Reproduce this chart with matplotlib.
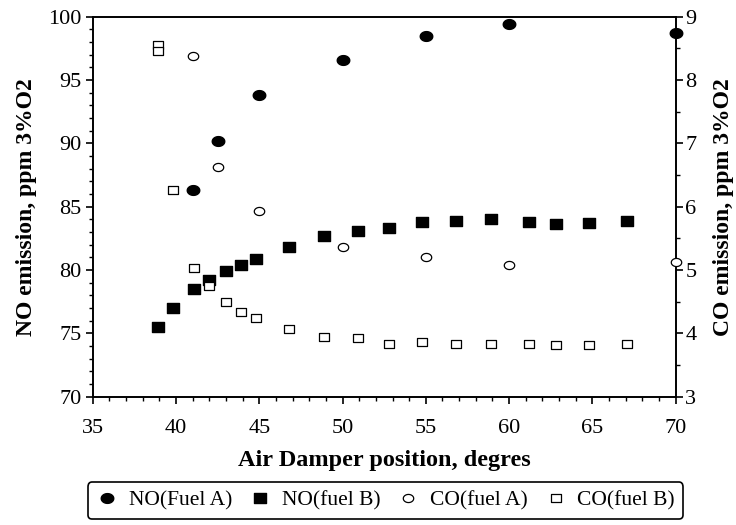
import numpy as np
import matplotlib.pyplot as plt
from matplotlib.path import Path
from matplotlib.ticker import MultipleLocator

# NO emission, fuel A (left axis)
no_a_x = [41.0, 42.5, 45.0, 50.0, 55.0, 60.0, 70.0]
no_a_y = [86.3, 90.2, 93.8, 96.6, 98.5, 99.4, 98.7]

# NO emission, fuel B (left axis)
no_b_x = [38.9, 39.8, 41.1, 42.0, 43.0, 43.9, 44.8, 46.8, 48.9, 50.9, 52.8,
          54.8, 56.8, 58.9, 61.2, 62.8, 64.8, 67.1]
no_b_y = [75.5, 77.0, 78.5, 79.2, 79.9, 80.4, 80.9, 81.8, 82.7, 83.1, 83.3,
          83.8, 83.9, 84.0, 83.8, 83.6, 83.7, 83.9]

# CO emission, fuel A (right axis)
co_a_x = [41.0, 42.5, 45.0, 50.0, 55.0, 60.0, 70.0]
co_a_y = [8.38, 6.62, 5.93, 5.36, 5.20, 5.08, 5.13]

# CO emission, fuel B (right axis)
co_b_x = [38.9, 38.9, 39.8, 41.1, 42.0, 43.0, 43.9, 44.8, 46.8, 48.9, 50.9,
          52.8, 54.8, 56.8, 58.9, 61.2, 62.8, 64.8, 67.1]
co_b_y = [8.55, 8.46, 6.26, 5.03, 4.74, 4.49, 4.34, 4.24, 4.07, 3.94, 3.93,
          3.83, 3.87, 3.83, 3.83, 3.83, 3.81, 3.82, 3.83]

plt.rcParams['font.family'] = ['Liberation Serif', 'DejaVu Serif']

# markers in the original are a little squashed vertically
t = np.linspace(0, 2 * np.pi, 60)
ellipse = Path(np.column_stack([np.cos(t), 0.78 * np.sin(t)]), closed=True)
rect = Path([(-1, -0.8), (1, -0.8), (1, 0.8), (-1, 0.8), (-1, -0.8)], closed=True)

fig = plt.figure(figsize=(7.36, 5.25), dpi=100)
ax = fig.add_axes([0.126, 0.2444, 0.792, 0.724])
ax2 = ax.twinx()

h1, = ax.plot(no_a_x, no_a_y, ls='none', marker=ellipse, color='black', markersize=9,
              label='NO(Fuel A)', clip_on=False, zorder=5)
h2, = ax.plot(no_b_x, no_b_y, ls='none', marker=rect, color='black', markersize=8.5,
              label='NO(fuel B)', clip_on=False, zorder=5)
h3, = ax2.plot(co_a_x, co_a_y, ls='none', marker=ellipse, mfc='white', mec='black', mew=0.9,
               markersize=7.5, label='CO(fuel A)', clip_on=False, zorder=5)
h4, = ax2.plot(co_b_x, co_b_y, ls='none', marker=rect, mfc='white', mec='black', mew=0.9,
               markersize=7, label='CO(fuel B)', clip_on=False, zorder=5)

ax.set_xlim(35, 70)
ax.set_ylim(70, 100)
ax2.set_ylim(3, 9)

ax.xaxis.set_major_locator(MultipleLocator(5))
ax.xaxis.set_minor_locator(MultipleLocator(1))
ax.yaxis.set_major_locator(MultipleLocator(5))
ax.yaxis.set_minor_locator(MultipleLocator(1))
ax2.yaxis.set_major_locator(MultipleLocator(1))
ax2.yaxis.set_minor_locator(MultipleLocator(0.5))

for a in (ax, ax2):
    a.tick_params(which='major', direction='out', length=5, width=1.2, labelsize=16, pad=3)
    a.tick_params(which='minor', direction='out', length=3, width=1.0)
    for s in a.spines.values():
        s.set_linewidth(1.2)
ax.tick_params(axis='x', pad=11)
ax.tick_params(top=False, which='both')
ax2.tick_params(axis='y', pad=2)

ax.set_xlabel('Air Damper position, degres', fontsize=17.5, fontweight='bold', labelpad=9)
ax.set_ylabel('NO emission, ppm 3%O2', fontsize=17, fontweight='bold', labelpad=8)
ax2.set_ylabel('CO emission, ppm 3%O2', fontsize=17, fontweight='bold', labelpad=12)

leg = fig.legend(handles=[h1, h2, h3, h4], loc='center', bbox_to_anchor=(0.524, 0.046),
                 ncol=4, fontsize=15.5, frameon=True, fancybox=True, edgecolor='black',
                 handlelength=1.0, handletextpad=0.5, columnspacing=0.8, markerscale=1.0,
                 borderpad=0.4, framealpha=1)
leg.get_frame().set_linewidth(1.2)

fig.savefig('out.png', dpi=100)
